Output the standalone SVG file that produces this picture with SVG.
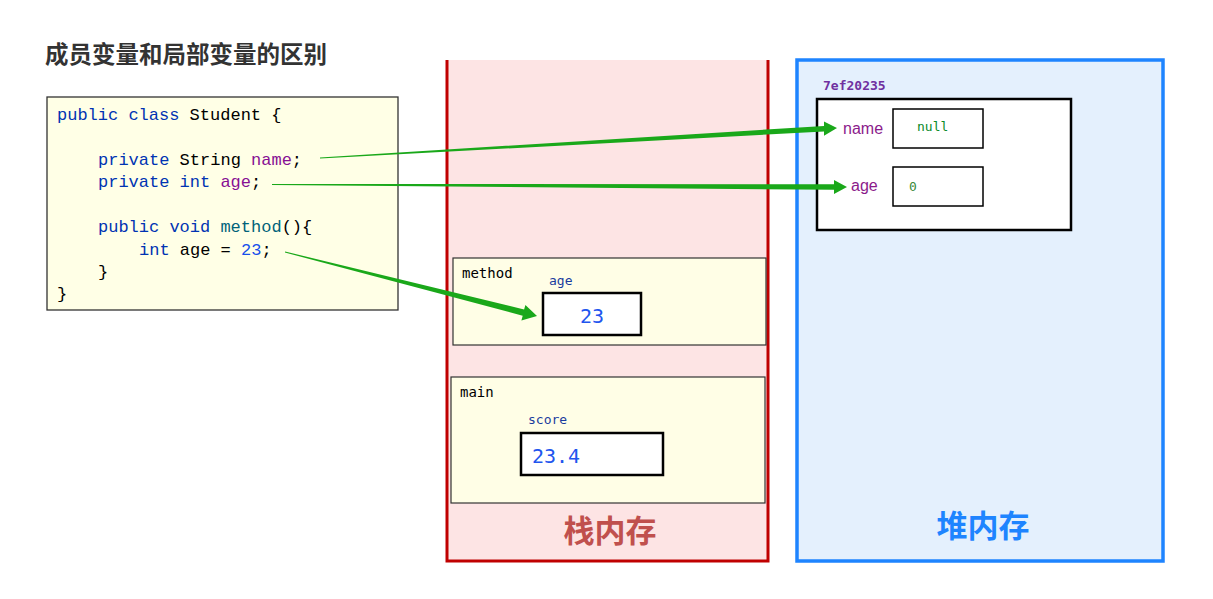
<svg xmlns="http://www.w3.org/2000/svg" width="1213" height="599" viewBox="0 0 1213 599">
<style>
.code{font-family:"Liberation Mono","DejaVu Sans Mono",monospace;font-size:17px;fill:#000;white-space:pre}
.kw{fill:#0033b3}
.fld{fill:#871094}
.fn{fill:#00627a}
.num{fill:#1750eb}
.mono{font-family:"DejaVu Sans Mono","Liberation Mono",monospace}
.frame{fill:#fffee6;stroke:#333;stroke-width:1.2}
.val{fill:#fff;stroke:#000;stroke-width:2.5}
.cjk{font-family:"Noto Sans CJK SC","Noto Sans",sans-serif;font-weight:bold}
.arrow{fill:#1aa81a}
</style>
<rect width="1213" height="599" fill="#fff"/>
<g id="title"><text x="45" y="63" class="cjk" font-size="23.5" fill="#333">成员变量和局部变量的区别</text></g>

<g id="stack">
<rect x="447" y="60" width="320" height="501" fill="#fde4e4"/>
<path d="M447,60 V561 H768 V60" fill="none" stroke="#c00000" stroke-width="3"/>
<text x="610" y="542" class="cjk" font-size="31" fill="#c0504d" text-anchor="middle">栈内存</text>
</g>

<g id="heap">
<rect x="797" y="60" width="366" height="501" fill="#e4f0fd" stroke="#1e84ff" stroke-width="3.5"/>
<text x="983" y="537" class="cjk" font-size="31" fill="#1e84ff" text-anchor="middle">堆内存</text>
</g>

<g id="code">
<rect x="47" y="97" width="351" height="213" fill="#ffffe6" stroke="#333" stroke-width="1.3"/>
<text class="code" x="57" y="120"><tspan class="kw">public class</tspan> Student {</text>
<text class="code" x="98" y="165"><tspan class="kw">private</tspan> String <tspan class="fld">name</tspan>;</text>
<text class="code" x="98" y="187"><tspan class="kw">private int</tspan> <tspan class="fld">age</tspan>;</text>
<text class="code" x="98" y="232"><tspan class="kw">public void</tspan> <tspan class="fn">method</tspan>(){</text>
<text class="code" x="139" y="255"><tspan class="kw">int</tspan> age = <tspan class="num">23</tspan>;</text>
<text class="code" x="98" y="277">}</text>
<text class="code" x="57" y="299">}</text>
</g>

<g id="method-frame">
<rect x="453" y="258" width="313" height="87" class="frame"/>
<text x="462" y="278" class="mono" font-size="14" fill="#000">method</text>
<text x="549" y="285" class="mono" font-size="13" fill="#1a3c9e">age</text>
<rect x="543" y="293" width="98" height="42" class="val"/>
<text x="592" y="323" class="mono" font-size="20" fill="#2255ee" text-anchor="middle">23</text>
</g>

<g id="main-frame">
<rect x="451" y="377" width="314" height="126" class="frame"/>
<text x="460" y="397" class="mono" font-size="14" fill="#000">main</text>
<text x="528" y="424" class="mono" font-size="13" fill="#1a3c9e">score</text>
<rect x="521" y="433" width="142" height="42" class="val"/>
<text x="532" y="463" class="mono" font-size="20" fill="#2255ee">23.4</text>
</g>

<g id="object">
<text x="823" y="90" class="mono" font-size="13" font-weight="bold" fill="#7030a0">7ef20235</text>
<rect x="817" y="99" width="254" height="131" class="val"/>
<text x="843" y="134" font-family="Liberation Sans,Noto Sans,sans-serif" font-size="16" fill="#8b1a8b">name</text>
<rect x="893" y="109" width="90" height="39" fill="#fff" stroke="#000" stroke-width="1.5"/>
<text x="917" y="131" class="mono" font-size="13" fill="#0a8a2a">null</text>
<text x="851" y="191" font-family="Liberation Sans,Noto Sans,sans-serif" font-size="16" fill="#8b1a8b">age</text>
<rect x="893" y="167" width="90" height="39" fill="#fff" stroke="#000" stroke-width="1.5"/>
<text x="909" y="191" class="mono" font-size="13" fill="#3a8a3a">0</text>
</g>

<g id="connectors">
<polygon class="arrow" points="320,157.4 824,126 824,121.5 837,128 824,135.7 824,131.4 320,158.6"/>
<polygon class="arrow" points="272,184 834,184.2 834,180 847,187 834,194 834,189.8 272,185"/>
<polygon class="arrow" points="285.1,251.5 524.1,309.5 525.4,304.9 537,316 521.4,320.4 522.7,315.7 284.9,252.5"/>
</g>
</svg>
